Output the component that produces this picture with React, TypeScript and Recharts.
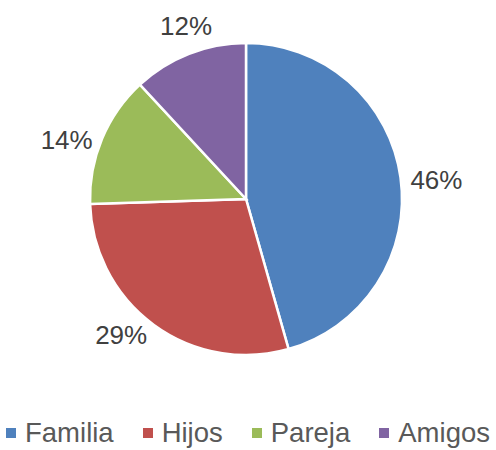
import { PieChart, Pie, Cell, Legend } from "recharts";

const categories = ["Familia", "Hijos", "Pareja", "Amigos"];
const values = [45.6, 28.9, 13.6, 11.9];
const colors = ["#4F81BD", "#C0504D", "#9BBB59", "#8064A2"];

const data = categories.map((name, i) => ({ name, value: values[i] }));

const RAD = Math.PI / 180;
const FONT = "'Liberation Sans', Arial, sans-serif";

// Excel-style "outside end" labels: side labels anchor by their inner edge,
// near-vertical labels anchor by their top/bottom edge
const renderLabel = ({ cx, cy, midAngle, outerRadius, percent }: any) => {
    const r = outerRadius + 8;
    const dx = Math.cos(-midAngle * RAD);
    const dy = Math.sin(-midAngle * RAD);
    let x = cx + r * dx;
    let y = cy + r * dy;
    if (Math.abs(dx) >= 0.5) {
        x += Math.sign(dx) * 28;
        y += 4;
    } else {
        y += Math.sign(dy) * 20;
    }
    return (
        <text
            x={x}
            y={y}
            fill="#404040"
            fontSize={26}
            fontFamily={FONT}
            textAnchor="middle"
            dominantBaseline="central"
        >
            {`${Math.round(percent * 100)}%`}
        </text>
    );
};

const CustomLegend = () => (
    <div style={{ display: "flex", justifyContent: "center", fontFamily: FONT, fontSize: 27.5, color: "#595959" }}>
        {categories.map((c, i) => (
            <div key={c} style={{ display: "flex", alignItems: "center", marginRight: i < categories.length - 1 ? 29 : 0 }}>
                <span style={{ width: 10, height: 10, background: colors[i], marginRight: 9, display: "inline-block" }} />
                <span>{c}</span>
            </div>
        ))}
    </div>
);

export default function App() {
    return (
        <div style={{ position: "absolute", left: 0, top: 0, width: 496, height: 450, background: "#fff" }}>
            <PieChart width={496} height={450} margin={{ top: 0, right: 0, bottom: 0, left: 0 }}>
                <Pie
                    data={data}
                    dataKey="value"
                    nameKey="name"
                    cx={246}
                    cy={199}
                    outerRadius={156}
                    startAngle={90}
                    endAngle={-270}
                    stroke="#fff"
                    strokeWidth={2.5}
                    label={renderLabel}
                    labelLine={false}
                    isAnimationActive={false}
                >
                    {data.map((d, i) => (
                        <Cell key={d.name} fill={colors[i]} />
                    ))}
                </Pie>
                <Legend content={<CustomLegend />} wrapperStyle={{ left: 0, top: 417, width: 496 }} />
            </PieChart>
        </div>
    );
}
